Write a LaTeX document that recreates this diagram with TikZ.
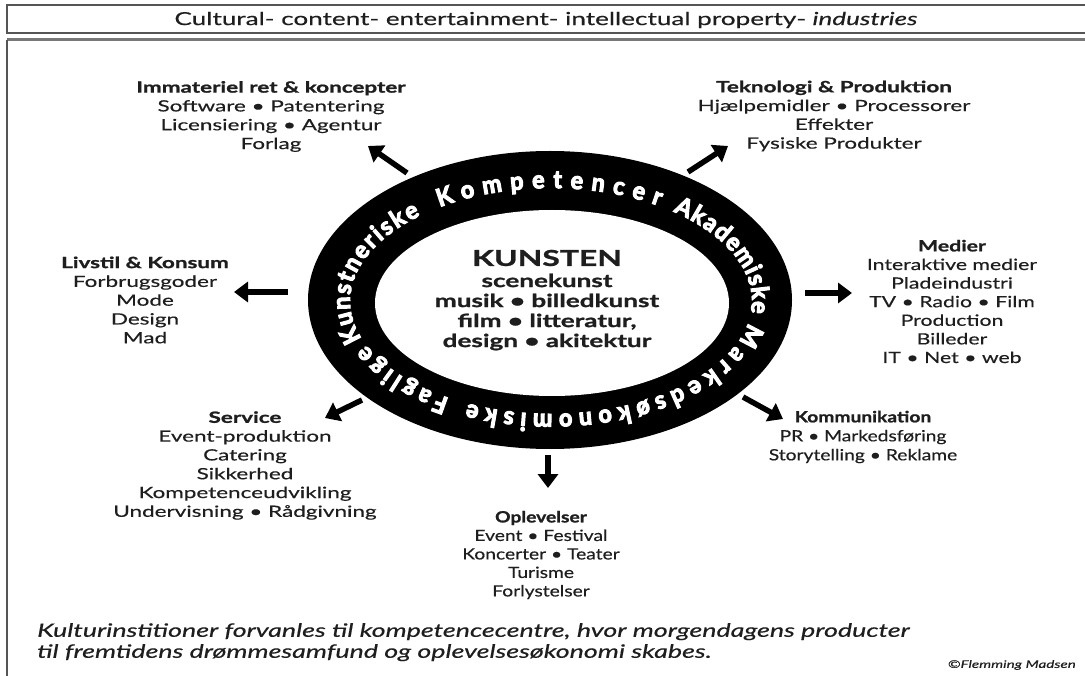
\documentclass[tikz,border=0pt]{standalone}
\usepackage{fontspec}
\setmainfont{Lato}[FakeStretch=1.45, UprightFeatures={FakeBold=0.4}, BoldFeatures={FakeBold=1.2}, ItalicFeatures={FakeBold=0.5}]
\newfontfamily\medfont{Lato}[FakeStretch=1.37, UprightFeatures={FakeBold=0.4}, BoldFeatures={FakeBold=1.2}]
\newfontfamily\narfont{Lato}[FakeStretch=1.24, UprightFeatures={FakeBold=0.4}, BoldFeatures={FakeBold=1.2}]
\newfontfamily\ringfont{Lato}[FakeStretch=0.95, BoldFeatures={FakeBold=4.5}]
\usetikzlibrary{arrows.meta,decorations.text}
\definecolor{ink}{HTML}{1E1E1E}
\definecolor{framegray}{HTML}{555555}
\newcommand\ringword[3]{%
  \path[decorate, decoration={text along path, text align={fit to path}, raise=-8pt,
    text={|\ringfont\bfseries\fontsize{24.5}{25}\selectfont\color{white}|#3}}]
    (551,-301) ++(#1:209pt and 121pt)
    arc[start angle=#1, end angle=#2, x radius=209pt, y radius=121pt];}
\begin{document}
\begin{tikzpicture}[x=1pt,y=1pt,
  blk/.style={align=center, inner sep=0pt, text=ink, font=\fontsize{15.5}{18.8}\selectfont},
  ctr/.style={align=center, inner sep=0pt, text=ink, font=\bfseries\fontsize{18}{20}\selectfont},
  arr/.style={line width=5.5pt, draw=black, -{Triangle[length=14pt,width=20pt]}},
  frame/.style={draw=framegray, line width=1.5pt}]
\useasboundingbox (0,0) rectangle (1085,-676);
\clip (0,0) rectangle (1085,-676);
% frames
\draw[frame] (7,-5) rectangle (1100,-33);
\draw[framegray!80, line width=3pt] (7,-40) -- (1100,-40);
\draw[frame] (7,-40) -- (7,-700);
\node[inner sep=0pt, text=ink, font=\fontsize{18}{20}\selectfont] (head) at (546,-20)
  {Cultural- content- entertainment- intellectual property- \textit{industries}};
% ring
\fill[black] (550,-300) ellipse [x radius=242pt, y radius=149pt];
\fill[white] (552,-303) ellipse [x radius=177pt, y radius=93pt];
\ringword{200}{130}{Kunstneriske}
\ringword{123}{58}{Kompetencer}
\ringword{53}{-6}{Akademiske}
\ringword{-12}{-114}{Markedsøkonomiske}
\ringword{-120}{-156}{Faglige}
% centre
\node[inner sep=0pt, text=ink, font=\bfseries\fontsize{22}{24}\selectfont] (kunsten) at (547,-258) {KUNSTEN};
\node[ctr] (kunst) at (547,-312) {scenekunst\\musik • billedkunst\\film • litteratur,\\design • akitektur};
% outer blocks
\node[blk] (imm) at (271,-116.5) {\textbf{Immateriel ret \& koncepter}\\Software • Patentering\\Licensiering • Agentur\\Forlag};
\node[blk] (tek) at (834,-116) {\textbf{Teknologi \& Produktion}\\Hjælpemidler • Processorer\\Effekter\\Fysiske Produkter};
\node[blk] (liv) at (145,-300) {\textbf{Livstil \& Konsum}\\Forbrugsgoder\\Mode\\Design\\Mad};
\node[blk, font=\medfont\fontsize{15.5}{18.6}\selectfont] (med) at (952,-301.5) {\textbf{Medier}\\Interaktive medier\\Pladeindustri\\TV • Radio • Film\\Production\\Billeder\\IT • Net • web};
\node[blk] (ser) at (245,-465.5) {\textbf{Service}\\Event-produktion\\Catering\\Sikkerhed\\Kompetenceudvikling\\Undervisning • Rådgivning};
\node[blk, font=\narfont\fontsize{15.5}{19}\selectfont] (kom) at (863,-437) {\textbf{Kommunikation}\\PR • Markedsføring\\Storytelling • Reklame};
\node[blk, font=\narfont\fontsize{15.5}{18.5}\selectfont] (opl) at (541,-555) {\textbf{Oplevelser}\\Event • Festival\\Koncerter • Teater\\Turisme\\Forlystelser};
% arrow coordinates
\coordinate (t1) at (407,-173); \coordinate (h1) at (368,-146);
\coordinate (t2) at (688,-172); \coordinate (h2) at (728,-146);
\coordinate (t3) at (288,-292); \coordinate (h3) at (234,-292);
\coordinate (t4) at (805,-293); \coordinate (h4) at (852,-293);
\coordinate (t5) at (362,-400); \coordinate (h5) at (325,-418);
\coordinate (t6) at (743,-397); \coordinate (h6) at (783,-419);
\coordinate (t7) at (548,-455); \coordinate (h7) at (548,-488);
\foreach \i in {1,...,7} \draw[arr] (t\i) -- (h\i);
% footer
\node[anchor=north west, align=left, inner sep=0pt, text=ink, font=\itshape\fontsize{18.5}{21}\selectfont] (foot) at (37,-623)
  {Kulturinstitioner forvanles til kompetencecentre, hvor morgendagens producter\\til fremtidens drømmesamfund og oplevelsesøkonomi skabes.};
\node[anchor=east, inner sep=0pt, text=ink, font=\itshape\fontsize{10.5}{12}\selectfont] (copy) at (1076,-665) {©Flemming Madsen};
\end{tikzpicture}
\end{document}
